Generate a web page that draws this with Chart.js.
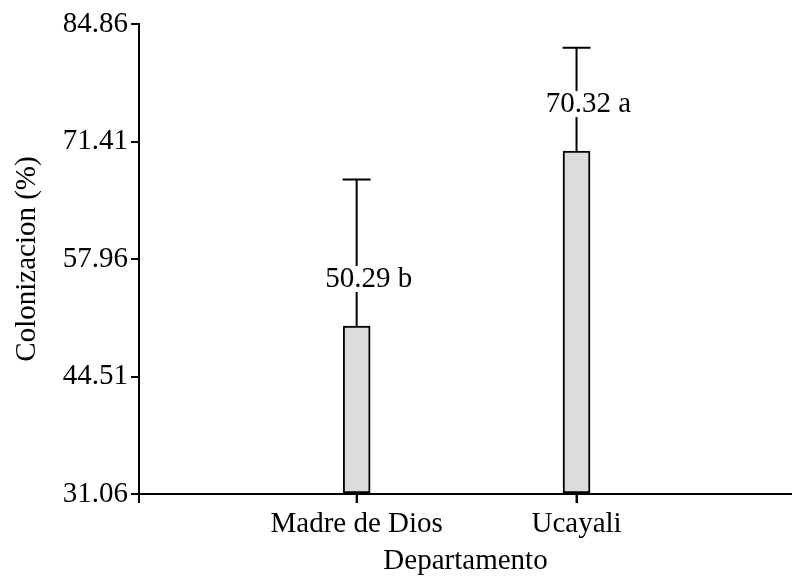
<!DOCTYPE html>
<html>
<head>
<meta charset="utf-8">
<script src="https://cdn.jsdelivr.net/npm/chart.js@4.4.1/dist/chart.umd.min.js"></script>
<style>
  html, body { margin: 0; padding: 0; background: #fff; overflow: hidden; }
  #wrap { width: 792px; height: 577px; }
</style>
</head>
<body>
<div id="wrap"><canvas id="chart" width="792" height="577"></canvas></div>
<script>
// Colonization by department: means, upper error limits and significance letters
const categories = ['Madre de Dios', 'Ucayali'];
const means = [50.29, 70.32];
const upperLimits = [67.07, 82.15];
const letters = ['b', 'a'];
const yTicks = [31.06, 44.51, 57.96, 71.41, 84.86];

const FONT = 'Liberation Serif, Times New Roman, serif';
const FS = 29;

// Error bars (upper whisker), category tick marks and the mean + letter labels
const errorBarPlugin = {
  id: 'errorBars',
  afterDatasetsDraw(chart) {
    const ctx = chart.ctx;
    const meta = chart.getDatasetMeta(0);
    const yScale = chart.scales.y;
    const axisY = chart.chartArea.bottom;
    ctx.save();
    meta.data.forEach((bar, i) => {
      const x = bar.x;
      const yTop = yScale.getPixelForValue(means[i]);
      const yCap = yScale.getPixelForValue(upperLimits[i]);
      ctx.strokeStyle = '#000';
      ctx.lineWidth = 2;
      ctx.beginPath();
      ctx.moveTo(x, yTop);
      ctx.lineTo(x, yCap);
      ctx.moveTo(x - 14, yCap);
      ctx.lineTo(x + 14, yCap);
      ctx.moveTo(x, axisY);
      ctx.lineTo(x, axisY + 9);
      ctx.stroke();

      const text = means[i].toFixed(2) + ' ' + letters[i];
      ctx.font = FS + 'px ' + FONT;
      const w = ctx.measureText(text).width;
      const tx = x + 12;
      const ty = yTop - 47;
      ctx.fillStyle = '#fff';
      ctx.fillRect(tx - w / 2 - 2, ty - 13, w + 4, 26);
      ctx.fillStyle = '#000';
      ctx.textAlign = 'center';
      ctx.textBaseline = 'middle';
      ctx.fillText(text, tx, ty);
    });
    ctx.restore();
  }
};

new Chart(document.getElementById('chart'), {
  type: 'bar',
  data: {
    datasets: [{
      data: means.map((v, i) => ({ x: i + 1, y: v })),
      base: yTicks[0],
      backgroundColor: '#dcdcdc',
      borderColor: '#000',
      borderWidth: 2,
      borderSkipped: false,
      barThickness: 27
    }]
  },
  options: {
    responsive: false,
    devicePixelRatio: 1,
    animation: false,
    layout: { padding: { top: 24, right: 0, bottom: 0, left: 0 } },
    plugins: {
      legend: { display: false },
      tooltip: { enabled: false }
    },
    scales: {
      x: {
        type: 'linear',
        offset: false,
        min: 0.01,
        max: 2.98,
        afterBuildTicks(axis) {
          axis.ticks = [{ value: 0.01 }, { value: 1 }, { value: 2 }];
        },
        afterFit(axis) { axis.height = 83; },
        ticks: {
          autoSkip: false,
          maxRotation: 0,
          padding: 4,
          color: '#000',
          font: { family: FONT, size: FS },
          callback(value) {
            const idx = Math.round(value) - 1;
            return categories[idx] !== undefined ? categories[idx] : '';
          }
        },
        grid: {
          offset: false,
          drawOnChartArea: false,
          drawTicks: true,
          tickLength: 9,
          color: '#000',
          lineWidth: 2
        },
        border: { display: true, color: '#000', width: 2 },
        title: {
          display: true,
          text: 'Departamento',
          color: '#000',
          font: { family: FONT, size: FS },
          padding: { top: 0, bottom: -2 }
        }
      },
      y: {
        type: 'linear',
        min: yTicks[0],
        max: yTicks[yTicks.length - 1],
        afterBuildTicks(axis) {
          axis.ticks = yTicks.map(v => ({ value: v }));
        },
        afterFit(axis) { axis.width = 139; },
        ticks: {
          padding: 3,
          color: '#000',
          font: { family: FONT, size: FS },
          callback(value) { return Number(value).toFixed(2); }
        },
        grid: {
          drawOnChartArea: false,
          drawTicks: true,
          tickLength: 8,
          color: '#000',
          lineWidth: 2
        },
        border: { display: true, color: '#000', width: 2 },
        title: {
          display: true,
          text: 'Colonizacion (%)',
          color: '#000',
          font: { family: FONT, size: FS },
          padding: { top: 10, bottom: 0 }
        }
      }
    }
  },
  plugins: [errorBarPlugin]
});
</script>
</body>
</html>
